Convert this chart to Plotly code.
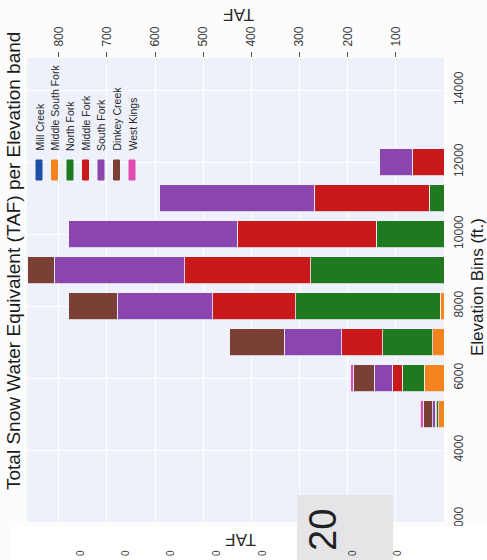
import plotly.graph_objects as go

# ---------------- data ----------------
elevation_bins = [5000, 6000, 7000, 8000, 9000, 10000, 11000, 12000, 13000]
mill_creek        = [0, 0, 0, 0, 0, 0, 0, 0, 2]
middle_south_fork = [11, 41, 23, 8, 0, 0, 0, 0, 0]
north_fork        = [4, 46, 104, 300, 277, 141, 31, 0, 0]
middle_fork       = [3, 21, 85, 172, 261, 288, 238, 66, 0]
south_fork        = [5, 37, 120, 199, 271, 350, 321, 68, 0]
dinkey_creek      = [20, 43, 114, 101, 56, 0, 0, 0, 0]
west_kings        = [6, 6, 0, 0, 0, 0, 0, 0, 0]

series_names = ["Mill Creek", "Middle South Fork", "North Fork", "Middle Fork",
                "South Fork", "Dinkey Creek", "West Kings"]
series_values = [mill_creek, middle_south_fork, north_fork, middle_fork,
                 south_fork, dinkey_creek, west_kings]
series_colors = ["#1d4fa8", "#f5841f", "#1f7a1f", "#c8191b",
                 "#8a46ae", "#7b4035", "#e04bb0"]

taf_ticks = [100, 200, 300, 400, 500, 600, 700, 800]
elev_ticks = [2000, 4000, 6000, 8000, 10000, 12000, 14000]

# ---------------- layout geometry (pixels) ----------------
W, H = 487, 560
L, R, T, B = 27, 43, 58, 38
PW, PH = W - L - R, H - T - B


def px(x):
    return (x - L) / PW


def py(y):
    return (H - B - y) / PH


FONT = "Liberation Sans, Arial, sans-serif"

fig = go.Figure()
for name, vals, col in zip(series_names, series_values, series_colors):
    fig.add_trace(go.Bar(
        y=elevation_bins, x=vals, name=name, orientation="h",
        marker=dict(color=col, line=dict(color="#eef0fa", width=0.8)),
        showlegend=False,
    ))

annotations = []
shapes = []

# title (rotated, reads bottom-to-top)
annotations.append(dict(
    text="Total Snow Water Equivalent (TAF) per Elevation band",
    x=px(13), y=py(261), xref="paper", yref="paper", showarrow=False,
    textangle=-90, font=dict(size=19, color="#1a1a1a", family=FONT),
    xanchor="center", yanchor="middle"))

# value-axis title, upside down at the top
annotations.append(dict(
    text="TAF", x=px(238), y=py(14), xref="paper", yref="paper",
    showarrow=False, textangle=180,
    font=dict(size=17, color="#2a2a2a", family=FONT),
    xanchor="center", yanchor="middle"))

# elevation-axis title, on the right, reads bottom-to-top
annotations.append(dict(
    text="Elevation Bins (ft.)", x=px(477), y=py(287), xref="paper",
    yref="paper", showarrow=False, textangle=-90,
    font=dict(size=17, color="#1a1a1a", family=FONT),
    xanchor="center", yanchor="middle"))

# manual legend (rotated entries)
leg_x = [39, 54.5, 70, 85.5, 101, 116.5, 132]
for name, col, lx in zip(series_names, series_colors, leg_x):
    annotations.append(dict(
        text=name, x=px(lx), y=py(153), xref="paper", yref="paper",
        showarrow=False, textangle=-90,
        font=dict(size=10.5, color="#2a2a2a", family=FONT),
        xanchor="center", yanchor="bottom"))
    shapes.append(dict(
        type="rect", xref="paper", yref="paper",
        x0=px(lx - 3), x1=px(lx + 3), y0=py(180), y1=py(160),
        fillcolor=col, line=dict(color=col, width=1), layer="above"))

# overlapping lower page fragment
shapes.append(dict(type="rect", xref="paper", yref="paper",
                   x0=px(10), x1=px(W), y0=py(H), y1=py(526),
                   fillcolor="#ffffff", line=dict(width=0), layer="above"))
shapes.append(dict(type="rect", xref="paper", yref="paper",
                   x0=px(297), x1=px(393), y0=py(H), y1=py(495),
                   fillcolor="#e5e5e7", line=dict(width=0), layer="above"))
annotations.append(dict(
    text="20", x=px(323), y=py(530), xref="paper", yref="paper",
    showarrow=False, textangle=-90,
    font=dict(size=38, color="#222222", family=FONT),
    xanchor="center", yanchor="middle"))
annotations.append(dict(
    text="TAF", x=px(241), y=py(540), xref="paper", yref="paper",
    showarrow=False, textangle=180,
    font=dict(size=17, color="#2a2a2a", family=FONT),
    xanchor="center", yanchor="middle"))
for bx in [80, 125, 170, 216, 262, 352, 397]:
    annotations.append(dict(
        text="0", x=px(bx), y=py(553), xref="paper", yref="paper",
        showarrow=False, textangle=-90,
        font=dict(size=10, color="#444444", family=FONT),
        xanchor="center", yanchor="middle"))

fig.update_layout(
    width=W, height=H,
    margin=dict(l=L, r=R, t=T, b=B, autoexpand=False),
    barmode="stack", bargap=0.25,
    paper_bgcolor="#fcfcfd", plot_bgcolor="#eef0fa",
    font=dict(family=FONT, color="#3a3a3a", size=12),
    annotations=annotations, shapes=shapes,
    xaxis=dict(
        range=[866, 0], side="top", tickvals=taf_ticks, tickangle=-90,
        ticks="outside", ticklen=5, tickcolor="#555555",
        ticklabelstandoff=3, showgrid=True, gridcolor="#ffffff",
        zeroline=False, showline=False, automargin=False,
        tickfont=dict(size=12, color="#3a3a3a")),
    yaxis=dict(
        range=[2000, 14889], side="right", tickvals=elev_ticks,
        tickformat="d", tickangle=-90, ticks="", ticklabelstandoff=6,
        showgrid=True, gridcolor="#ffffff", zeroline=False,
        showline=False, automargin=False,
        tickfont=dict(size=12, color="#3a3a3a")),
)

fig.write_html(
    "out.html",
    config={"displayModeBar": False},
    post_script="document.body.style.margin='0';document.body.style.overflow='hidden';",
)
